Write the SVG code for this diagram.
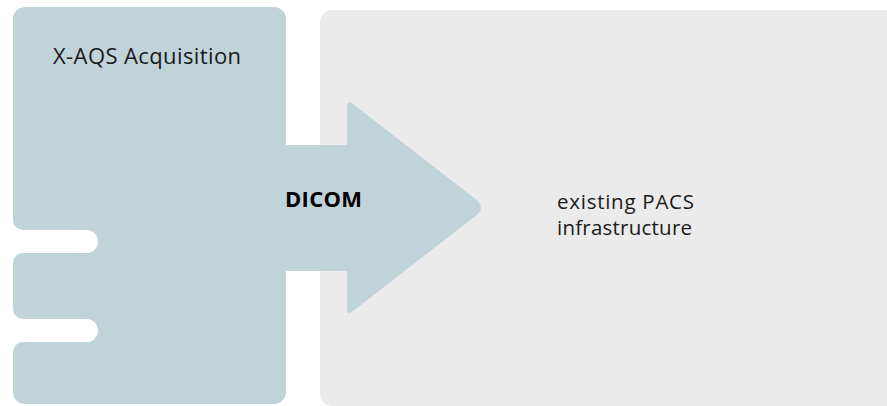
<svg xmlns="http://www.w3.org/2000/svg" width="887" height="406" viewBox="0 0 887 406">
  <style>
    .blue { fill: #c0d3d9; }
    .gray { fill: #ebebeb; }
    .lbl { font-family: "Open Sans", "Noto Sans", sans-serif; font-size: 22px; fill: #1a1a1a; }
    .pacs { font-size: 20.5px; }
    .bold { font-weight: bold; font-size: 22px; fill: #000; }
  </style>
  <rect width="887" height="406" fill="#ffffff"/>
  <g id="pacs">
    <rect class="gray" x="320" y="10" width="600" height="396" rx="12"/>
    <text class="lbl pacs" x="557" y="209" textLength="137">existing PACS</text>
    <text class="lbl pacs" x="557" y="235" textLength="135">infrastructure</text>
  </g>
  <g id="acquisition">
    <path class="blue" d="M25,7 H274 A12,12 0 0 1 286,19 V392 A12,12 0 0 1 274,404 H25 A12,12 0 0 1 13,392 V352 A10,10 0 0 1 23,342 H86.5 A11.5,11.5 0 0 0 86.5,319 H23 A10,10 0 0 1 13,309 V263 A10,10 0 0 1 23,253 H86.5 A11.5,11.5 0 0 0 86.5,230 H23 A10,10 0 0 1 13,220 V19 A12,12 0 0 1 25,7 Z"/>
    <text class="lbl" x="53" y="64" textLength="188">X-AQS Acquisition</text>
  </g>
  <g id="connectors">
    <path class="blue" d="M280,145 H347 V107 Q347,100 353,104 L478,201 Q484,208 478,214 L353,311 Q347,316 347,309 V271 H280 Z"/>
    <text class="lbl bold" x="285" y="207" textLength="77">DICOM</text>
  </g>
</svg>
